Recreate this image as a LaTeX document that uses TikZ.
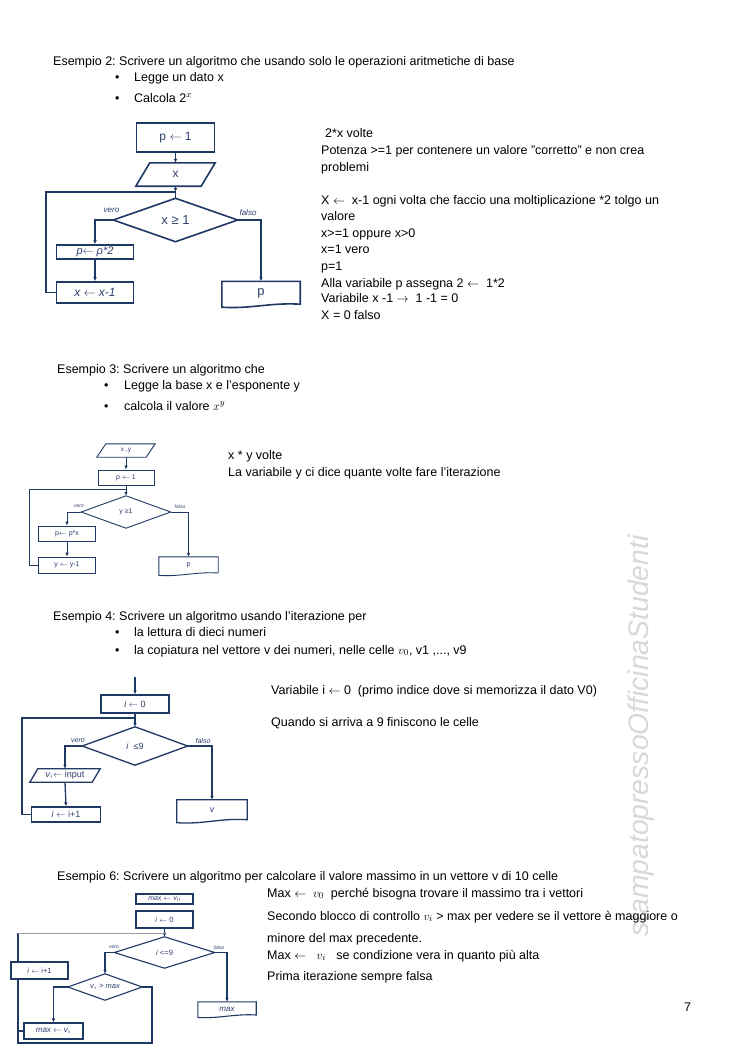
\documentclass[tikz,border=0pt]{standalone}
\usepackage{fontspec}
\setmainfont{Liberation Sans}
\usetikzlibrary{arrows.meta,calc}
\frenchspacing
\definecolor{navy}{HTML}{1F3864}
\definecolor{fctext}{HTML}{2E3F6E}
\definecolor{wmgray}{HTML}{D8D8D8}
\definecolor{loopgray}{HTML}{9A9A9A}
\newcommand{\fs}[1]{\fontsize{#1}{#1}\selectfont}
\newcommand{\la}{$\leftarrow$}
\newcommand{\ra}{$\rightarrow$}
\newcommand{\paraframe}[3]{\draw[#3] ([xshift=#2pt]#1.north west) -- (#1.north east) -- ([xshift=-#2pt]#1.south east) -- (#1.south west) -- cycle;}
\newcommand{\diamframe}[2]{\draw[#2] (#1.north) -- (#1.east) -- (#1.south) -- (#1.west) -- cycle;}
\newcommand{\docframe}[3]{\draw[#3] (#1.north west) -- (#1.north east) -- ([yshift=#2pt]#1.south east) .. controls ([xshift=8pt,yshift=#2pt*2.2]#1.south) and ([xshift=-8pt,yshift=-#2pt*2.2]#1.south) .. ([yshift=-#2pt]#1.south west) -- cycle;}
\tikzset{
  body/.style={anchor=base west, inner sep=0pt, font=\fs{12.5}},
  bul/.style={anchor=base west, inner sep=0pt, font=\fs{12.5}},
  box/.style={draw=navy, fill=white, inner sep=0pt, text=fctext},
  ghost/.style={inner sep=0pt, text=fctext},
  lbl/.style={inner sep=0pt, text=fctext, font=\itshape\fs{#1}},
  arr/.style={-{Latex[length=4pt,width=3.6pt]}},
  lw1/.style={draw=navy, line width=1.6pt},
  lw2/.style={draw=navy, line width=0.9pt},
  lw3/.style={draw=navy, line width=1.3pt},
  lw4/.style={draw=navy, line width=1.1pt},
}
\begin{document}
\begin{tikzpicture}[x=1pt,y=-1pt]
\fill[white] (0,0) rectangle (745,1053);
\useasboundingbox (0,0) rectangle (745,1053);

% ---------- watermark ----------
\node[rotate=90, inner sep=0pt, text=wmgray, font=\itshape\fs{28.3}] (wm) at (641,736) {stampatopressoOfficinaStudenti};

% ---------- Esempio 2 ----------
\node[body] (h2) at (53,65) {Esempio 2: Scrivere un algoritmo che usando solo le operazioni aritmetiche di base};
\node[bul] (h2b1) at (115,81) {•};
\node[body] (h2l1) at (134,81) {Legge un dato x};
\node[bul] (h2b2) at (115,102) {•};
\node[body] (h2l2) at (134,102) {Calcola 2$^{x}$};

\node[body] (t1a) at (325,137) {2*x volte};
\node[body] (t1b) at (321,154) {Potenza >=1 per contenere un valore "corretto" e non crea};
\node[body] (t1c) at (321,171) {problemi};
\node[body] (t1d) at (321,204) {X \la\ \ x-1 ogni volta che faccio una moltiplicazione *2 tolgo un};
\node[body] (t1e) at (321,220) {valore};
\node[body] (t1f) at (321,237) {x>=1 oppure x>0};
\node[body] (t1g) at (321,253) {x=1 vero};
\node[body] (t1h) at (321,270) {p=1};
\node[body] (t1i) at (321,287) {Alla variabile p assegna 2 \la\ \ 1*2};
\node[body] (t1j) at (321,302) {Variabile x -1 \ra\ \ 1 -1 = 0};
\node[body] (t1k) at (321,319) {X = 0 falso};

% flowchart 1
\node[box, line width=1.6pt, minimum width=78, minimum height=29, font=\fs{12}] (a1) at (175.5,137.5) {p \la\ 1};
\node[ghost, minimum width=79, minimum height=23, font=\fs{12}] (a2) at (175.5,174.5) {x};
\paraframe{a2}{14}{lw1}
\node[ghost, minimum width=124, minimum height=43, font=\fs{13}] (d1) at (175.5,220) {x ≥ 1};
\diamframe{d1}{lw1}
\node[box, line width=1.6pt, minimum width=77, minimum height=14, font=\itshape\fs{11}] (b1) at (95,252) {p\la\ ρ*2};
\node[box, line width=1.6pt, minimum width=77, minimum height=21, font=\itshape\fs{12}] (b2) at (95,292.5) {x \la\ x-1};
\node[ghost, minimum width=78, minimum height=24, font=\fs{13}] (c1) at (261,293.5) {p};
\docframe{c1}{1.5}{lw1}
\node[lbl=8] (v1) at (111.5,210) {vero};
\node[lbl=8] (f1) at (248,213) {falso};
\coordinate (j1) at (175.5,192);
\coordinate (l1) at (46,192);
\draw[lw1,arr] (a1.south) -- (a2.north);
\draw[lw1,arr] (a2.south) -- (j1);
\draw[lw1] (j1) -- (d1.north);
\draw[lw1,arr] (d1.west) -| (b1.north);
\draw[lw1,arr] (b1.south) -- (b2.north);
\draw[lw1] (b2.west) -| (l1) -- (j1);
\draw[lw1,arr] (d1.east) -| (c1.north);

% ---------- Esempio 3 ----------
\node[body] (h3) at (57,373) {Esempio 3: Scrivere un algoritmo che};
\node[bul] (h3b1) at (104,389) {•};
\node[body] (h3l1) at (124,389) {Legge la base x e l’esponente y};
\node[bul] (h3b2) at (104,410) {•};
\node[body] (h3l2) at (124,410) {calcola il valore $x^{y}$};
\node[body] (t3a) at (228,459) {x * y volte};
\node[body] (t3b) at (228,476) {La variabile y ci dice quante volte fare l'iterazione};

% flowchart 2
\node[ghost, minimum width=58, minimum height=13, font=\fs{6.5}] (e1) at (126,450.5) {x ,y};
\paraframe{e1}{9}{lw2}
\node[box, line width=0.9pt, minimum width=56, minimum height=15, font=\fs{7}] (e2) at (126,477.5) {p \la\ 1};
\node[ghost, minimum width=89, minimum height=32, font=\fs{7}] (e3) at (126,512) {y ≥1};
\diamframe{e3}{lw2}
\node[box, line width=0.9pt, minimum width=57, minimum height=15, font=\fs{7}] (e4) at (67,533.5) {p\la\ p*x};
\node[box, line width=0.9pt, minimum width=57, minimum height=16, font=\fs{7}] (e5) at (67,565) {y \la\ y-1};
\node[ghost, minimum width=59, minimum height=17, font=\fs{7}] (e6) at (188.5,565.5) {p};
\docframe{e6}{1.2}{lw2}
\node[lbl=5] (v2) at (79,506) {vero};
\node[lbl=5] (f2) at (180,507) {falso};
\coordinate (j2) at (126,489);
\coordinate (l2) at (29,489);
\draw[lw2,arr] (e1.south) -- (e2.north);
\draw[lw2,arr] (e2.south) -- (e3.north);
\draw[lw2,arr] (e3.west) -| (e4.north);
\draw[lw2,arr] (e4.south) -- (e5.north);
\draw[lw2] (e5.west) -| (l2) -- (j2);
\draw[lw2,arr] (e3.east) -| (e6.north);

% ---------- Esempio 4 ----------
\node[body] (h4) at (53,620) {Esempio 4: Scrivere un algoritmo usando l'iterazione per};
\node[bul] (h4b1) at (115,636) {•};
\node[body] (h4l1) at (134,636) {la lettura di dieci numeri};
\node[bul] (h4b2) at (115,654) {•};
\node[body] (h4l2) at (134,654) {la copiatura nel vettore v dei numeri, nelle celle $v_{0}$, v1 ,..., v9};
\node[body] (t4a) at (271,694) {Variabile i \la\ 0\ \ (primo indice dove si memorizza il dato V0)};
\node[body] (t4b) at (271,726) {Quando si arriva a 9 finiscono le celle};

% flowchart 3
\coordinate (s3) at (135,677);
\node[box, line width=1.3pt, minimum width=68, minimum height=18, font=\fs{9}] (g0) at (135,704) {\textit{i} \la\ 0};
\node[ghost, minimum width=105, minimum height=38, font=\fs{9}] (f2d) at (135,746) {\textit{i}\ \ ≤9};
\diamframe{f2d}{lw3}
\node[ghost, minimum width=70, minimum height=13, font=\fs{9}] (f3) at (65,775.5) {\textit{v$_i$}\la\ input};
\paraframe{f3}{8}{lw3}
\node[box, line width=1.3pt, minimum width=69, minimum height=15, font=\fs{9}] (f4) at (66,814.5) {\textit{i} \la\ i+1};
\node[ghost, minimum width=70, minimum height=21, font=\itshape\fs{9}] (f5) at (212,810.5) {v};
\docframe{f5}{1.5}{lw3}
\node[lbl=7] (v3) at (78,741) {vero};
\node[lbl=7] (f3l) at (203,741) {falso};
\coordinate (j3) at (135,718);
\coordinate (l3) at (22,718);
\draw[lw3,arr] (s3) -- (g0.north);
\draw[lw3,arr] (g0.south) -- (f2d.north);
\draw[lw3,arr] (f2d.west) -| (f3.north);
\draw[lw3,arr] (f3.south) -- (f4.north);
\draw[lw3] (f4.west) -| (l3) -- (j3);
\draw[lw3,arr] (f2d.east) -| (f5.north);

% ---------- Esempio 6 ----------
\node[body] (h6) at (57,880) {Esempio 6: Scrivere un algoritmo per calcolare il valore massimo in un vettore v di 10 celle};
\node[body] (t6a) at (267,897) {Max \la\ \ $v_{0}$\ \ perché bisogna trovare il massimo tra i vettori};
\node[body] (t6b) at (267,920) {Secondo blocco di controllo $v_{i}$ > max per vedere se il vettore è maggiore o};
\node[body] (t6c) at (267,942) {minore del max precedente.};
\node[body] (t6d) at (267,959) {Max \la\ \ \ $v_{i}$\ \ \ se condizione vera in quanto più alta};
\node[body] (t6e) at (267,980) {Prima iterazione sempre falsa};

% flowchart 4
\coordinate (k1) at (152,1043);
\coordinate (k2) at (18,1043);
\coordinate (k3) at (18,933);
\node[box, line width=1.1pt, minimum width=57, minimum height=10, font=\itshape\fs{7}] (m1) at (164.5,899) {max \la\ v$_0$};
\node[box, line width=1.1pt, minimum width=57, minimum height=17, font=\fs{7.5}] (m2) at (164.5,919.5) {\textit{i} \la\ 0};
\node[ghost, minimum width=100, minimum height=31, font=\fs{7.5}] (m3) at (164.5,952.5) {\textit{i} <=9};
\diamframe{m3}{lw4}
\node[ghost, minimum width=74, minimum height=26, font=\itshape\fs{7.5}] (m4) at (105,987) {v$_i$ > max};
\diamframe{m4}{lw4}
\node[lbl=5] (v4) at (114,947) {vero};
\node[lbl=5] (f4l) at (219,948) {falso};
\coordinate (j4) at (164.5,933);
\draw[lw4,arr] (m2.south) -- (m3.north);
\draw[lw4,arr] (m3.west) -| (m4.north);
\draw[lw4] (m4.east) -| (k1) -- (k2) -- (k3);
\draw[loopgray, line width=0.8pt] (k3) -- (j4);
\node[box, line width=1.1pt, minimum width=59, minimum height=16, font=\itshape\fs{8}] (m5) at (53.5,1031) {max \la\ v$_i$};
\draw[lw4,arr] (m4.west) -| (m5.north);
\draw[lw4] (m5.west) -- (m5.west -| k2);
\node[box, line width=1.1pt, minimum width=57, minimum height=17, font=\fs{7.5}] (m6) at (39.5,970.5) {\textit{i} \la\ i+1};
\node[ghost, minimum width=58, minimum height=14, font=\itshape\fs{8}] (m7) at (227,1009) {max};
\docframe{m7}{1.2}{lw4}
\draw[lw4,arr] (m3.east) -| (m7.north);

% page number
\node[body] (pg) at (684,1011) {7};
\end{tikzpicture}
\end{document}
